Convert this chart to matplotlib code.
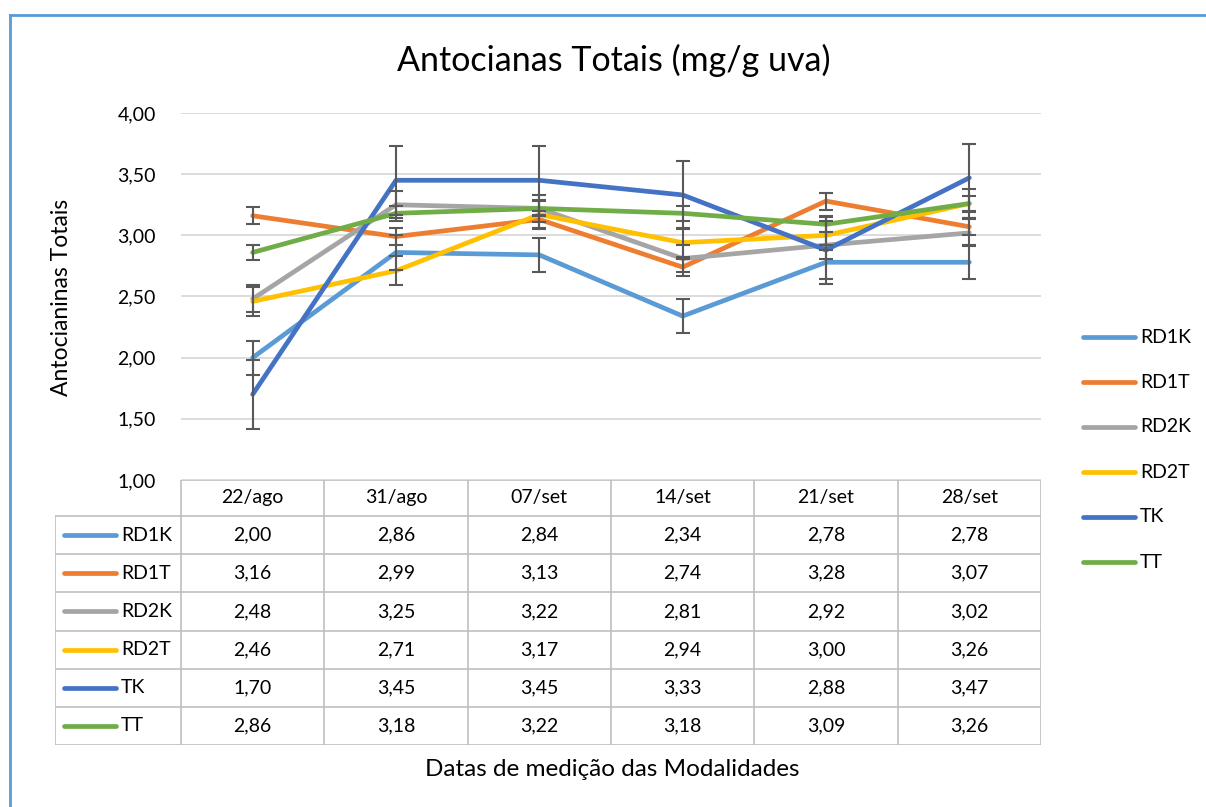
"""
Antocianas Totais (mg/g uva) - grafico de linhas com tabela de dados
"""

import numpy as np
import matplotlib.pyplot as plt
from matplotlib.lines import Line2D

plt.rcParams['font.family'] = ['Lato', 'DejaVu Sans']

# dados
datas = ['22/ago', '31/ago', '07/set', '14/set', '21/set', '28/set']
series = ['RD1K', 'RD1T', 'RD2K', 'RD2T', 'TK', 'TT']
rd1k = [2.00, 2.86, 2.84, 2.34, 2.78, 2.78]
rd1t = [3.16, 2.99, 3.13, 2.74, 3.28, 3.07]
rd2k = [2.48, 3.25, 3.22, 2.81, 2.92, 3.02]
rd2t = [2.46, 2.71, 3.17, 2.94, 3.00, 3.26]
tk = [1.70, 3.45, 3.45, 3.33, 2.88, 3.47]
tt = [2.86, 3.18, 3.22, 3.18, 3.09, 3.26]
erros = [0.14, 0.07, 0.11, 0.12, 0.28, 0.06]
cores = ['#5B9BD5', '#ED7D31', '#A5A5A5', '#FFC000', '#4472C4', '#70AD47']
valores = [rd1k, rd1t, rd2k, rd2t, tk, tt]

W, H = 1206, 807


def fx(x):
    return x / W


def fy(y):
    return 1 - y / H


fig = plt.figure(figsize=(W / 100, H / 100), dpi=100)

# borda do grafico
fig.add_artist(Line2D([fx(10), fx(10)], [fy(15), 0], color='#5B9BD5', lw=2))
fig.add_artist(Line2D([fx(10), 1], [fy(15), fy(15)], color='#5B9BD5', lw=2))

# area do grafico
ax = fig.add_axes([fx(181), fy(480), fx(1041) - fx(181), fy(113) - fy(480)])
x = np.arange(len(datas)) + 0.5
for nome, v, e, c in zip(series, valores, erros, cores):
    ax.plot(x, v, color=c, lw=3.4, solid_capstyle='round', zorder=3)
for v, e in zip(valores, erros):
    ax.errorbar(x, v, yerr=e, fmt='none', ecolor='#595959', elinewidth=1.5,
                capsize=5, capthick=1.5, zorder=4)

ax.set_xlim(0, len(datas))
ax.set_ylim(1.0, 4.0)
ax.set_yticks(np.arange(1.0, 4.01, 0.5))
ax.set_yticklabels([f'{t:.2f}'.replace('.', ',') for t in np.arange(1.0, 4.01, 0.5)])
ax.set_xticks([])
ax.tick_params(axis='y', length=0, labelsize=14, pad=18, labelcolor='#000000')
ax.grid(axis='y', color='#D9D9D9', lw=1.3)
ax.set_axisbelow(True)
for s in ax.spines.values():
    s.set_visible(False)

# tabela de dados
at = fig.add_axes([fx(55), fy(745), fx(1041) - fx(55), fy(480) - fy(745)])
at.set_xlim(55, 1041)
at.set_ylim(745, 480)
at.axis('off')
col0, col_w = 181, (1041 - 181) / len(datas)
row0, row_h = 516, (745 - 516) / len(series)
lc = '#BFBFBF'
at.plot([col0, 1041], [480, 480], color=lc, lw=1.2)
for i in range(len(series) + 1):
    yy = row0 + i * row_h
    at.plot([55, 1041], [yy, yy], color=lc, lw=1.2)
at.plot([55, 55], [row0, 745], color=lc, lw=1.2)
for j in range(len(datas) + 1):
    xx = col0 + j * col_w
    at.plot([xx, xx], [480, 745], color=lc, lw=1.2)
for j, d in enumerate(datas):
    at.text(col0 + (j + 0.5) * col_w, 498, d, ha='center', va='center', fontsize=14)
for i, (nome, v, c) in enumerate(zip(series, valores, cores)):
    yy = row0 + (i + 0.5) * row_h
    at.plot([64, 116], [yy, yy], color=c, lw=3.4, solid_capstyle='round')
    at.text(121, yy, nome, ha='left', va='center', fontsize=14)
    for j, val in enumerate(v):
        at.text(col0 + (j + 0.5) * col_w, yy, f'{val:.2f}'.replace('.', ','),
                ha='center', va='center', fontsize=14)

# legenda
for i, (nome, c) in enumerate(zip(series, cores)):
    yy = 337 + i * 45
    fig.add_artist(Line2D([fx(1083), fx(1135)], [fy(yy), fy(yy)], color=c, lw=3.4,
                          solid_capstyle='round'))
    fig.text(fx(1140), fy(yy), nome, ha='left', va='center', fontsize=14)

# textos
fig.text(fx(614), fy(60), 'Antocianas Totais (mg/g uva)', ha='center', va='center', fontsize=24.5)
fig.text(fx(62), fy(297), 'Antocianinas Totais', ha='center', va='center', rotation=90, fontsize=16.5)
fig.text(fx(612), fy(770), 'Datas de medição das Modalidades', ha='center', va='center', fontsize=17.5)

plt.savefig('out.png', dpi=100)
plt.close()
